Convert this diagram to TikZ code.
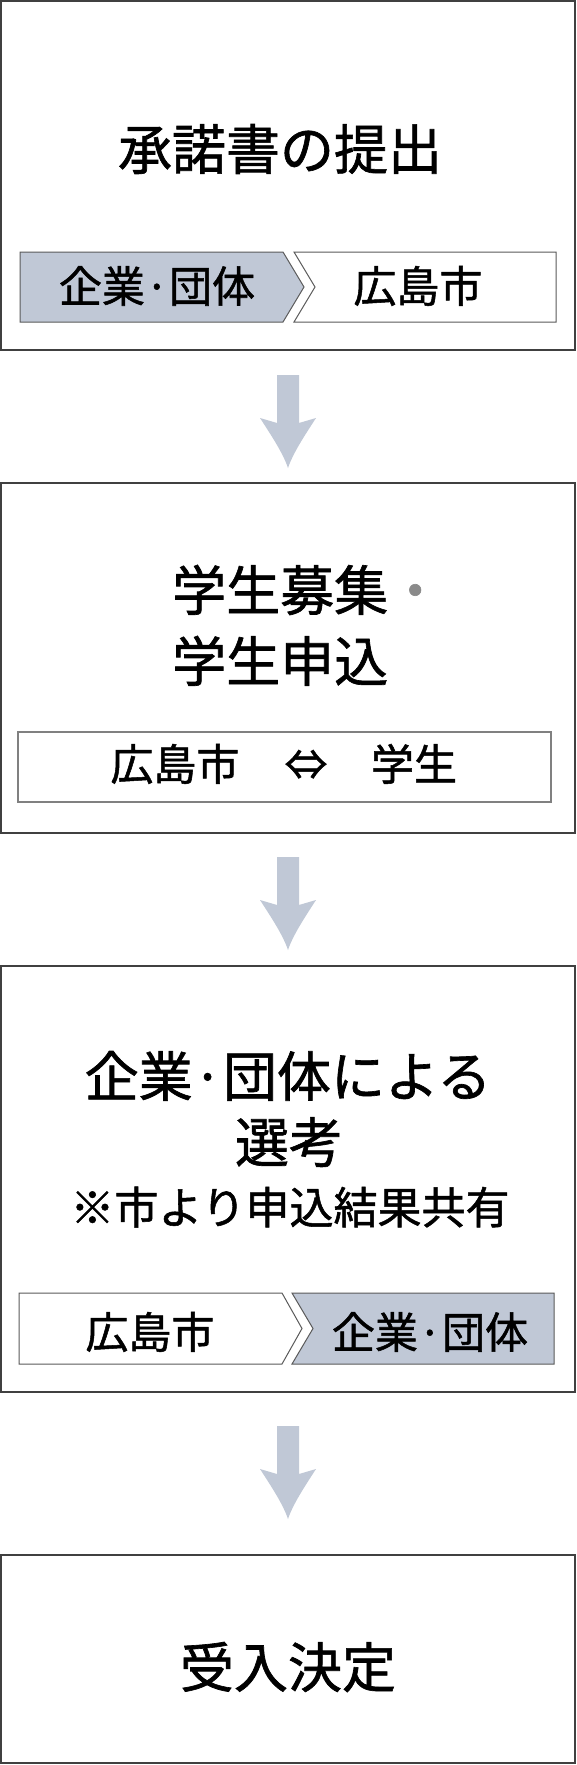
\documentclass[tikz,border=0pt]{standalone}
\usepackage{fontspec}
\setmainfont{Noto Sans CJK JP}[FakeBold=1.2]
\definecolor{arrc}{HTML}{C0C8D6}
\definecolor{boxc}{HTML}{404040}
\definecolor{chevc}{HTML}{5A5A5A}
\definecolor{barc}{HTML}{808080}
\definecolor{dotc}{HTML}{8A8A8A}
\begin{document}
\begin{tikzpicture}[x=1pt,y=-1pt,
  box/.style={draw=boxc, line width=1.5pt, fill=white, inner sep=0, minimum width=574pt},
  big/.style={inner sep=0, text height=47.5pt, text depth=6.5pt, font=\fontsize{54}{60}\selectfont},
  mid/.style={inner sep=0, text height=39pt, text depth=5.3pt, font=\fontsize{44}{50}\selectfont},
  small/.style={inner sep=0, text height=37.8pt, text depth=5.2pt, font=\fontsize{43}{48}\selectfont},
  chevfill/.style={fill=arrc, draw=chevc, line width=1pt, line join=miter},
  chevwhite/.style={fill=white, draw=chevc, line width=1pt, line join=miter},
  barbox/.style={draw=barc, line width=1.2pt, fill=white, inner sep=0, minimum width=533pt, minimum height=70pt},
  blockarrow/.style={fill=arrc}]
\useasboundingbox (0,0) rectangle (576,1765);
\fill[white] (0,0) rectangle (576,1765);

% boxes
\node[box, minimum height=349pt] (b1) at (288,175.5) {};
\node[box, minimum height=350pt] (b2) at (288,658) {};
\node[box, minimum height=426pt] (b3) at (288,1179) {};
\node[box, minimum height=208pt] (b4) at (288,1659) {};

% arrows
\foreach \t/\n in {375/a1, 857/a2, 1426/a3}{
  \coordinate (\n) at (288,\t);
  \fill[blockarrow, shift={(\n)}] (-11,0) -- (11,0) -- (11,48) -- (28,43)
     .. controls (17,60) and (5,78) .. (0,93)
     .. controls (-5,78) and (-17,60) .. (-28,43) -- (-11,48) -- cycle;
}

% box 1
\node[big] (t1) at (280,149) {承諾書の提出};
\draw[chevfill] (20,252) -- (283,252) -- (304,287) -- (283,322) -- (20,322) -- cycle;
\draw[chevwhite] (294,252) -- (556,252) -- (556,322) -- (294,322) -- (315,287) -- cycle;
\node[small] (c1a) at (157,286) {企業·団体};
\node[small] (c1b) at (418,286) {広島市};

% box 2
\node[big, anchor=west] (t2a) at (172,590) {学生募集\textcolor{dotc}{・}};
\node[big, anchor=west] (t2b) at (172,661) {学生申込};
\node[barbox] (bar2) at (284.5,767) {};
\node[small] (c2a) at (175,764) {広島市};
\node[small] (c2b) at (306,764) {⇔};
\node[small] (c2c) at (414,764) {学生};

% box 3
\node[big] (t3a) at (288,1076) {企業·団体による};
\node[big] (t3b) at (289,1142) {選考};
\node[mid] (t3c) at (290,1207) {※市より申込結果共有};
\draw[chevwhite] (19,1293) -- (282,1293) -- (302,1328.5) -- (282,1364) -- (19,1364) -- cycle;
\draw[chevfill] (292,1293) -- (554,1293) -- (554,1364) -- (292,1364) -- (313,1328.5) -- cycle;
\node[small] (c3a) at (150,1332) {広島市};
\node[small] (c3b) at (430,1332) {企業·団体};

% box 4
\node[big] (t4) at (288,1667) {受入決定};
\end{tikzpicture}
\end{document}
